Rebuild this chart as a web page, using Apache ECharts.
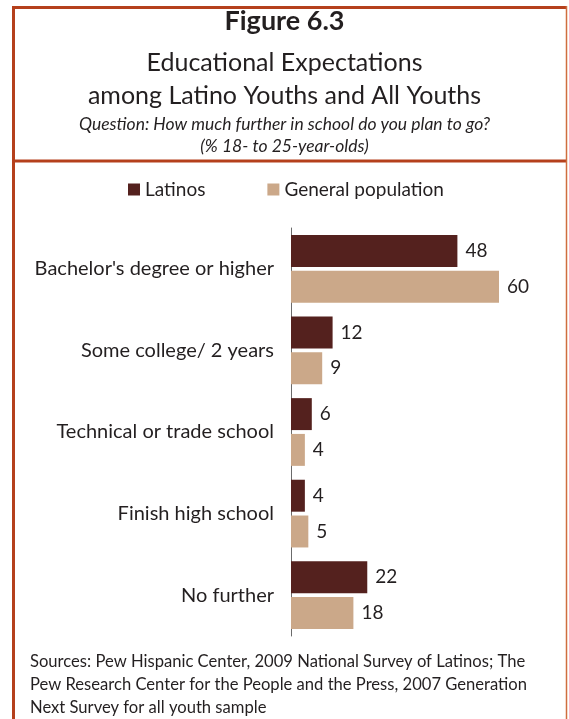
<!DOCTYPE html>
<html>
  <head>
    <title></title>
    <meta charset="UTF-8" />
    <script src="https://cdn.jsdelivr.net/npm/echarts@6/dist/echarts.min.js"></script>
    <style>
      body { margin: 0; background: #fff; }
    </style>
  </head>
  <body>
    <div id="main"></div>
    <script>
      const width = 569;
      const height = 719;
      const main = document.getElementById('main');
      main.style.width = `${width}px`;
      main.style.height = `${height}px`;

      const categories = [
        "Bachelor's degree or higher",
        'Some college/ 2 years',
        'Technical or trade school',
        'Finish high school',
        'No further',
      ];
      const latinos = [48, 12, 6, 4, 22];
      const generalPop = [60, 9, 4, 5, 18];

      const font = 'Lato';
      const textColor = '#231f20';
      const frame = '#b5401c';

      const myChart = echarts.init(main);
      const option = {
        backgroundColor: '#fff',
        textStyle: { fontFamily: font },
        title: [
          {
            text: 'Figure 6.3',
            left: 'center',
            top: 6,
            padding: 0,
            textStyle: { fontSize: 27, fontWeight: 'bold', color: textColor, lineHeight: 30, fontFamily: font },
          },
          {
            text: 'Educational Expectations\namong Latino Youths and All Youths',
            left: 'center',
            top: 46,
            padding: 0,
            textStyle: { fontSize: 25, fontWeight: 'normal', color: textColor, lineHeight: 33, fontFamily: font },
          },
          {
            text: 'Question: How much further in school do you plan to go?\n(% 18- to 25-year-olds)',
            left: 'center',
            top: 113,
            padding: 0,
            textStyle: { fontSize: 17.5, fontStyle: 'italic', fontWeight: 'normal', color: textColor, lineHeight: 22, fontFamily: font },
          },
          {
            text: 'Sources: Pew Hispanic Center, 2009 National Survey of Latinos; The\nPew Research Center for the People and the Press, 2007 Generation\nNext Survey for all youth sample',
            left: 30,
            top: 650,
            padding: 0,
            textStyle: { fontSize: 16.6, fontWeight: 'normal', color: textColor, lineHeight: 23, fontFamily: font },
          },
        ],
        legend: {
          data: ['Latinos', 'General population'],
          left: 128,
          top: 180,
          padding: 0,
          itemWidth: 12,
          itemHeight: 12,
          itemGap: 62,
          icon: 'rect',
          textStyle: { fontSize: 19, color: textColor, fontFamily: font },
        },
        grid: {
          left: 291,
          right: 70,
          top: 228,
          height: 408,
          containLabel: false,
        },
        xAxis: {
          type: 'value',
          min: 0,
          max: 60,
          show: false,
        },
        yAxis: {
          type: 'category',
          data: categories,
          inverse: true,
          axisLine: { show: true, lineStyle: { color: '#6b6b6b', width: 1 } },
          axisTick: { show: false },
          axisLabel: { fontSize: 20, color: textColor, margin: 17, fontFamily: font },
        },
        series: [
          {
            name: 'Latinos',
            type: 'bar',
            data: latinos,
            barCategoryGap: '17%',
            barGap: '12%',
            itemStyle: { color: '#54211e' },
            label: { show: true, position: 'right', distance: 8, fontSize: 19, color: textColor, fontFamily: font },
          },
          {
            name: 'General population',
            type: 'bar',
            data: generalPop,
            itemStyle: { color: '#cba889' },
            label: { show: true, position: 'right', distance: 8, fontSize: 19, color: textColor, fontFamily: font },
          },
        ],
        graphic: [
          { type: 'line', shape: { x1: 13.5, y1: 7.5, x2: 566, y2: 7.5 }, style: { stroke: frame, lineWidth: 3 } },
          { type: 'line', shape: { x1: 13.5, y1: 6, x2: 13.5, y2: 719 }, style: { stroke: frame, lineWidth: 3 } },
          { type: 'line', shape: { x1: 13.5, y1: 161, x2: 566, y2: 161 }, style: { stroke: frame, lineWidth: 3 } },
          { type: 'line', shape: { x1: 566.5, y1: 6, x2: 566.5, y2: 719 }, style: { stroke: '#cf6e3e', lineWidth: 1.5 } },
        ],
      };
      myChart.setOption(option);
    </script>
  </body>
</html>
